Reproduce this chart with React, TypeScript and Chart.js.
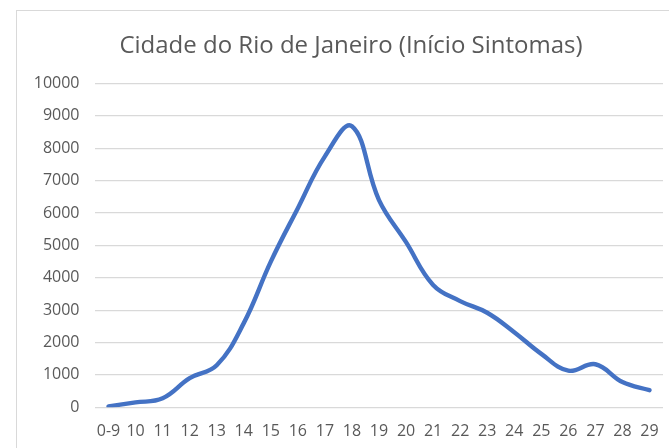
import React, { useEffect, useRef } from "react";
import { Chart, registerables } from "chart.js";

Chart.register(...registerables);

const categories = ["0-9", "10", "11", "12", "13", "14", "15", "16", "17", "18", "19", "20", "21", "22", "23", "24", "25", "26", "27", "28", "29"];
const casos = [30, 150, 280, 900, 1300, 2600, 4500, 6150, 7750, 8680, 6400, 5100, 3780, 3280, 2920, 2320, 1650, 1130, 1330, 780, 530];
const yTicks = [0, 1000, 2000, 3000, 4000, 5000, 6000, 7000, 8000, 9000, 10000];
const titleText = "Cidade do Rio de Janeiro (Início Sintomas)";

export default function App() {
  const ref = useRef<HTMLCanvasElement>(null);
  useEffect(() => {
    if (!ref.current) return;
    const chart = new Chart(ref.current, {
      type: "line",
      data: {
        labels: categories,
        datasets: [
          {
            data: casos,
            borderColor: "#4472C4",
            borderWidth: 4.4,
            pointRadius: 0,
            tension: 0.4,
            fill: false,
            borderCapStyle: "round",
            borderJoinStyle: "round",
          },
        ],
      },
      options: {
        animation: false,
        responsive: false,
        devicePixelRatio: 1,
        layout: { padding: { left: 0, right: 0, top: 0, bottom: 0 } },
        plugins: {
          legend: { display: false },
          tooltip: { enabled: false },
          title: {
            display: true,
            text: titleText,
            color: "#595959",
            font: { family: "'Open Sans'", size: 24, weight: "normal", lineHeight: 1.2 },
            padding: { top: 31.5, bottom: 23.2 },
          },
        },
        scales: {
          x: {
            offset: true,
            grid: { display: false, drawTicks: false },
            border: { display: false },
            ticks: {
              color: "#595959",
              font: { family: "'Open Sans'", size: 16 },
              padding: 15,
              maxRotation: 0,
              autoSkip: false,
            },
            afterFit: (s: any) => {
              s.height = 40.7;
            },
          },
          y: {
            min: 0,
            max: 10000,
            afterBuildTicks: (s: any) => {
              s.ticks = yTicks.map((v) => ({ value: v }));
            },
            grid: { color: "#d9d9d9", lineWidth: 1.3, drawTicks: false },
            border: { display: false },
            ticks: {
              color: "#595959",
              font: { family: "'Open Sans'", size: 16 },
              padding: 15.5,
              callback: (v: any) => String(v),
            },
            afterFit: (s: any) => {
              s.width = 95;
            },
          },
          spacer: {
            type: "linear",
            position: "right",
            display: true,
            grid: { display: false, drawTicks: false },
            border: { display: false },
            ticks: { display: false },
            afterFit: (s: any) => {
              s.width = 39;
            },
          },
        },
      },
    });
    return () => chart.destroy();
  }, []);
  return (
    <div style={{ position: "fixed", left: 0, top: 0, width: 669, height: 448, overflow: "hidden", background: "#fff" }}>
      <div style={{ position: "absolute", left: 16, top: 10, width: 720, height: 520, border: "1px solid #d9d9d9" }} />
      <canvas ref={ref} width={702} height={448} style={{ position: "absolute", left: 0, top: 0, width: 702, height: 448 }} />
    </div>
  );
}
